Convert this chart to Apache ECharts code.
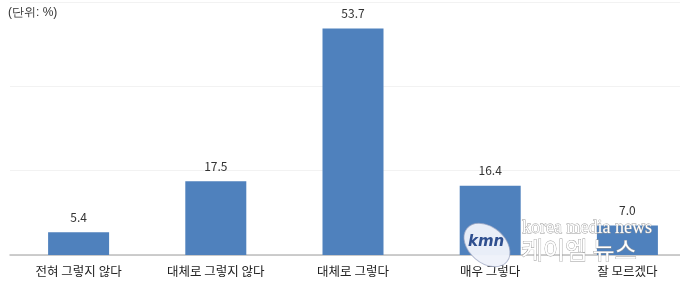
<!DOCTYPE html>
<html><head><meta charset="utf-8">
<script src="https://cdn.jsdelivr.net/npm/echarts@6/dist/echarts.min.js"></script>
<style>html,body{margin:0;padding:0;background:#fff;overflow:hidden}#c{width:680px;height:287px}</style>
</head><body><div id="c"></div>
<script>
var categories = ['전혀 그렇지 않다', '대체로 그렇지 않다', '대체로 그렇다', '매우 그렇다', '잘 모르겠다'];
var values = [5.4, 17.5, 53.7, 16.4, 7.0];
var unitLabel = '(단위: %)';
var chart = echarts.init(document.getElementById('c'));
chart.setOption({
  animation: false,
  textStyle: {fontFamily: '"Noto Sans CJK KR", "Noto Sans", sans-serif'},
  grid: {left: 10, width: 686, top: 2, bottom: 32, containLabel: false, outerBoundsMode: 'none'},
  xAxis: {
    type: 'category', data: categories,
    axisLine: {lineStyle: {color: '#bdbdbd', width: 1.5}},
    axisTick: {show: false},
    axisLabel: {color: '#222', fontSize: 12.5, margin: 10, interval: 0}
  },
  yAxis: {
    type: 'value', min: 0, max: 60, interval: 20,
    axisLabel: {show: false}, axisLine: {show: false}, axisTick: {show: false},
    splitLine: {lineStyle: {color: '#f2f2f2'}}
  },
  series: [{
    type: 'bar', data: values, barWidth: 61,
    itemStyle: {color: '#4f81bd'},
    label: {show: true, position: 'top', distance: 9, color: '#333', fontSize: 12,
      formatter: function(p){ return p.value.toFixed(1); }}
  }],
  graphic: [
    {type: 'text', left: 8, top: 7, style: {text: unitLabel, fill: '#333', fontSize: 12, font: '12px "Noto Sans CJK KR", sans-serif'}},
    {type: 'group', z: 100, children: [
      {type: 'ellipse', z: 100, shape: {cx: 487, cy: 245, rx: 26, ry: 18}, rotation: -0.7, originX: 487, originY: 245,
        style: {fill: 'rgba(238,242,250,0.97)', stroke: 'rgba(150,160,190,0.7)', lineWidth: 1}},
      {type: 'text', z: 101, x: 468, y: 235, style: {text: 'kmn', fill: '#2f4f8f', font: 'italic bold 15px "DejaVu Sans", sans-serif'}},
      {type: 'text', z: 101, x: 522, y: 219, style: {text: 'korea media news', fill: '#ffffff', stroke: '#999999', lineWidth: 0.8, font: '18px "Liberation Serif", serif'}},
      {type: 'text', z: 101, x: 521, y: 238, style: {text: '케이엠 뉴스', fill: '#ffffff', stroke: '#999999', lineWidth: 0.8, font: '24px "Noto Sans CJK KR", sans-serif'}}
    ]}
  ]
});
</script></body></html>
